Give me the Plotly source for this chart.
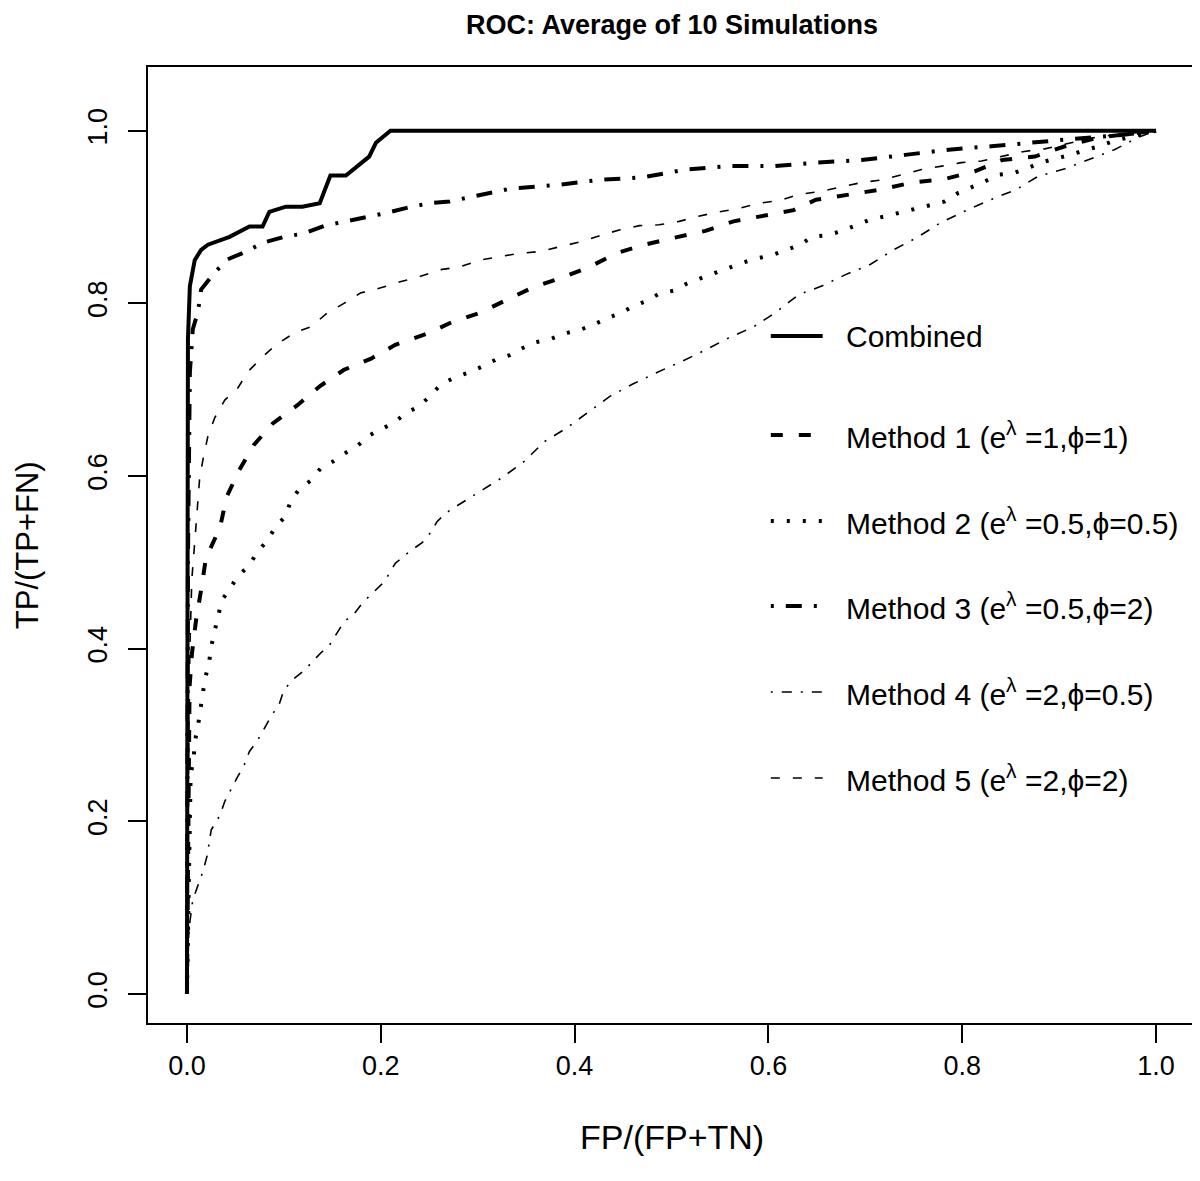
import plotly.graph_objects as go

# ---------------- data ----------------
fp_comb = [0, 0, 0.001, 0.003, 0.008, 0.0146, 0.0216, 0.044, 0.0645, 0.078, 0.085, 0.102, 0.119, 0.137, 0.148, 0.164, 0.188, 0.195, 0.21, 1.0]
tp_comb = [0.005, 0.70, 0.758, 0.82, 0.85, 0.862, 0.868, 0.877, 0.889, 0.889, 0.906, 0.912, 0.912, 0.916, 0.948, 0.948, 0.970, 0.986, 1.0, 1.0]

fp_m1 = [0, 0.001, 0.0018, 0.0027, 0.0052, 0.0095, 0.0146, 0.0196, 0.034, 0.041,
         0.054, 0.069, 0.0886, 0.114, 0.137, 0.162, 0.19, 0.215, 0.248, 0.273,
         0.302, 0.329, 0.356, 0.387, 0.415, 0.443, 0.472, 0.503, 0.535, 0.564,
         0.595, 0.626, 0.649, 0.686, 0.717, 0.748, 0.782, 0.813, 0.841, 0.875,
         0.906, 0.94, 0.964, 1.0]
tp_m1 = [0, 0.15, 0.317, 0.356, 0.395, 0.434, 0.468, 0.505, 0.54, 0.576,
         0.607, 0.636, 0.661, 0.682, 0.704, 0.723, 0.736, 0.752, 0.765, 0.778,
         0.789, 0.803, 0.818, 0.83, 0.842, 0.858, 0.868, 0.876, 0.884, 0.895,
         0.901, 0.908, 0.92, 0.926, 0.932, 0.94, 0.944, 0.953, 0.966, 0.97,
         0.982, 0.992, 0.995, 1.0]

fp_m2 = [0, 0.001, 0.002, 0.003, 0.0038, 0.0069, 0.0079, 0.0113, 0.014, 0.0165,
         0.0186, 0.0227, 0.025, 0.0285, 0.032, 0.036, 0.044, 0.0525, 0.064, 0.072,
         0.082, 0.091, 0.102, 0.107, 0.116, 0.128, 0.138, 0.151, 0.164, 0.176,
         0.188, 0.202, 0.214, 0.226, 0.24, 0.251, 0.262, 0.276, 0.291, 0.305,
         0.319, 0.333, 0.346, 0.36, 0.376, 0.389, 0.405, 0.419, 0.434, 0.448,
         0.461, 0.475, 0.487, 0.503, 0.516, 0.53, 0.544, 0.559, 0.573, 0.588,
         0.604, 0.619, 0.633, 0.645, 0.661, 0.676, 0.691, 0.705, 0.721, 0.736,
         0.751, 0.767, 0.782, 0.796, 0.809, 0.823, 0.837, 0.853, 0.868, 0.881,
         0.897, 0.912, 0.928, 0.942, 0.956, 0.975, 1.0]
tp_m2 = [0, 0.07, 0.15, 0.234, 0.254, 0.272, 0.291, 0.31, 0.328, 0.346,
         0.365, 0.383, 0.402, 0.42, 0.439, 0.456, 0.469, 0.484, 0.496, 0.511,
         0.524, 0.54, 0.554, 0.571, 0.585, 0.595, 0.609, 0.617, 0.627, 0.635,
         0.647, 0.655, 0.662, 0.673, 0.681, 0.693, 0.706, 0.714, 0.72, 0.727,
         0.735, 0.74, 0.748, 0.755, 0.759, 0.765, 0.769, 0.775, 0.783, 0.789,
         0.797, 0.803, 0.811, 0.815, 0.823, 0.829, 0.835, 0.841, 0.847, 0.852,
         0.856, 0.862, 0.868, 0.877, 0.879, 0.884, 0.891, 0.897, 0.901, 0.905,
         0.909, 0.913, 0.918, 0.928, 0.934, 0.941, 0.949, 0.951, 0.957, 0.963,
         0.968, 0.972, 0.978, 0.982, 0.988, 0.993, 1.0]

fp_m3 = [0, 0.001, 0.003, 0.006, 0.0113, 0.0146, 0.028, 0.042, 0.061, 0.078,
         0.10, 0.121, 0.142, 0.164, 0.185, 0.207, 0.228, 0.25, 0.271, 0.293,
         0.334, 0.381, 0.425, 0.47, 0.515, 0.559, 0.606, 0.649, 0.696, 0.741,
         0.786, 0.83, 0.875, 0.92, 0.964, 1.0]
tp_m3 = [0, 0.5, 0.72, 0.77, 0.79, 0.816, 0.835, 0.851, 0.86, 0.87,
         0.877, 0.881, 0.89, 0.895, 0.899, 0.905, 0.911, 0.916, 0.918, 0.923,
         0.933, 0.937, 0.943, 0.946, 0.955, 0.959, 0.959, 0.963, 0.966, 0.972,
         0.978, 0.982, 0.987, 0.991, 0.995, 1.0]

fp_m4 = [0, 0.002, 0.006, 0.011, 0.0165, 0.021, 0.025, 0.034, 0.039, 0.0515,
         0.059, 0.0645, 0.073, 0.08, 0.0875, 0.095, 0.10, 0.109, 0.119, 0.128,
         0.138, 0.147, 0.155, 0.162, 0.173, 0.181, 0.193, 0.204, 0.215, 0.229,
         0.243, 0.251, 0.258, 0.267, 0.278, 0.302, 0.325, 0.348, 0.369, 0.391,
         0.413, 0.436, 0.459, 0.485, 0.511, 0.535, 0.559, 0.585, 0.607, 0.631,
         0.655, 0.679, 0.705, 0.729, 0.753, 0.777, 0.803, 0.829, 0.856, 0.878,
         0.906, 0.93, 0.957, 0.981, 1.0]
tp_m4 = [0, 0.075, 0.109, 0.124, 0.142, 0.161, 0.19, 0.207, 0.223, 0.25,
         0.265, 0.281, 0.294, 0.308, 0.323, 0.335, 0.352, 0.364, 0.373, 0.383,
         0.395, 0.404, 0.418, 0.431, 0.441, 0.453, 0.466, 0.478, 0.499, 0.512,
         0.523, 0.534, 0.547, 0.557, 0.565, 0.582, 0.598, 0.617, 0.64, 0.655,
         0.673, 0.692, 0.706, 0.72, 0.733, 0.746, 0.76, 0.773, 0.789, 0.81,
         0.82, 0.833, 0.845, 0.862, 0.876, 0.893, 0.907, 0.92, 0.932, 0.947,
         0.956, 0.966, 0.978, 0.992, 1.0]

fp_m5 = [0, 0.001, 0.003, 0.005, 0.008, 0.0095, 0.011, 0.013, 0.0165, 0.0216,
         0.0285, 0.039, 0.0525, 0.063, 0.078, 0.092, 0.111, 0.128, 0.145, 0.162,
         0.179, 0.2, 0.22, 0.24, 0.261, 0.281, 0.302, 0.322, 0.343, 0.364,
         0.384, 0.405, 0.425, 0.446, 0.467, 0.487, 0.508, 0.528, 0.549, 0.57,
         0.59, 0.611, 0.631, 0.655, 0.676, 0.696, 0.717, 0.737, 0.758, 0.779,
         0.799, 0.82, 0.864, 0.885, 0.94, 1.0]
tp_m5 = [0, 0.2, 0.4, 0.48, 0.523, 0.546, 0.572, 0.596, 0.619, 0.646,
         0.667, 0.688, 0.702, 0.721, 0.738, 0.752, 0.766, 0.773, 0.789, 0.80,
         0.812, 0.818, 0.825, 0.831, 0.839, 0.842, 0.85, 0.854, 0.858, 0.86,
         0.865, 0.871, 0.878, 0.885, 0.89, 0.891, 0.895, 0.901, 0.906, 0.91,
         0.916, 0.919, 0.926, 0.93, 0.935, 0.94, 0.943, 0.949, 0.955, 0.959,
         0.963, 0.965, 0.976, 0.979, 0.993, 1.0]

series_names = ["Combined",
                "Method 1 (e<sup>λ</sup> =1,ϕ=1)",
                "Method 2 (e<sup>λ</sup> =0.5,ϕ=0.5)",
                "Method 3 (e<sup>λ</sup> =0.5,ϕ=2)",
                "Method 4 (e<sup>λ</sup> =2,ϕ=0.5)",
                "Method 5 (e<sup>λ</sup> =2,ϕ=2)"]
tick_vals = [0.0, 0.2, 0.4, 0.6, 0.8, 1.0]
tick_text = ["0.0", "0.2", "0.4", "0.6", "0.8", "1.0"]

# ---------------- styles ----------------
styles = [
    dict(width=4, dash="solid"),
    dict(width=4, dash="12px,16px"),
    dict(width=4, dash="3px,13px"),
    dict(width=4, dash="3px,12px,16px,12px"),
    dict(width=1.6, dash="2px,9px,10px,9px"),
    dict(width=1.6, dash="9px,13px"),
]
xs = [fp_comb, fp_m1, fp_m2, fp_m3, fp_m4, fp_m5]
ys = [tp_comb, tp_m1, tp_m2, tp_m3, tp_m4, tp_m5]

FONT = "Liberation Sans, Arial, Helvetica, sans-serif"
PAGE_W, PAGE_H = 1200, 1181
OFF = 8  # default body margin of the html page
W, H = PAGE_W - OFF, PAGE_H - OFF
L, R, T, B = 148, 1197, 67, 1023  # plot box in page pixels

fig = go.Figure()
for x, y, st, nm in zip(xs, ys, styles, series_names):
    fig.add_trace(go.Scatter(x=x, y=y, mode="lines", name=nm, showlegend=False,
                             line=dict(color="black", width=st["width"], dash=st["dash"])))

# ---------------- manual legend ----------------
def px_to_paper_x(px):
    return (px - L) / (R - L)

def px_to_paper_y(py):
    return (B - py) / (B - T)

legend_rows_px = [336, 435, 521, 606, 692, 778]
shapes = []
annotations = []
for row_y, st, nm in zip(legend_rows_px, styles, series_names):
    yy = px_to_paper_y(row_y)
    shapes.append(dict(type="line", xref="paper", yref="paper",
                       x0=px_to_paper_x(772), x1=px_to_paper_x(824), y0=yy, y1=yy,
                       line=dict(color="black", width=st["width"], dash=st["dash"])))
    annotations.append(dict(xref="paper", yref="paper", x=px_to_paper_x(845), y=yy,
                            xanchor="left", yanchor="middle", text=nm, showarrow=False,
                            font=dict(family=FONT, size=30, color="black")))

# title and axis titles
annotations.append(dict(xref="paper", yref="paper", x=0.5, y=px_to_paper_y(25),
                        xanchor="center", yanchor="middle", showarrow=False,
                        text="<b>ROC: Average of 10 Simulations</b>",
                        font=dict(family=FONT, size=27, color="black")))
annotations.append(dict(xref="paper", yref="paper", x=0.5, y=px_to_paper_y(1137),
                        xanchor="center", yanchor="middle", showarrow=False,
                        text="FP/(FP+TN)",
                        font=dict(family=FONT, size=34, color="black")))
annotations.append(dict(xref="paper", yref="paper", x=px_to_paper_x(27), y=0.5,
                        xanchor="center", yanchor="middle", showarrow=False, textangle=-90,
                        text="TP/(TP+FN)",
                        font=dict(family=FONT, size=31, color="black")))

fig.update_layout(
    width=W, height=H,
    margin=dict(l=L - OFF, r=PAGE_W - R, t=T - OFF, b=PAGE_H - B, pad=0),
    paper_bgcolor="white", plot_bgcolor="white",
    shapes=shapes, annotations=annotations,
    font=dict(family=FONT, color="black"),
)
axis_common = dict(showline=True, mirror=True, linecolor="black", linewidth=2,
                   showgrid=False, zeroline=False, ticks="outside", ticklen=18,
                   tickwidth=2, tickcolor="black", tickvals=tick_vals, ticktext=tick_text,
                   tickfont=dict(family=FONT, size=27, color="black"))
fig.update_xaxes(range=[-0.0402, 1.0402], **axis_common)
fig.update_yaxes(range=[-0.0336, 1.0738], tickangle=-90, ticklabelstandoff=10, **axis_common)

fig.write_html("out.html")
